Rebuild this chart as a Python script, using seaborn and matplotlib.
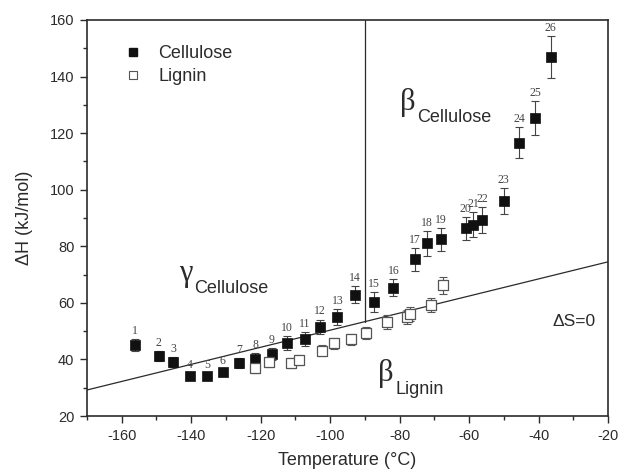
import numpy as np
import pandas as pd
import matplotlib
matplotlib.use("Agg")
import matplotlib.pyplot as plt
import seaborn as sns
from matplotlib.ticker import MultipleLocator
from matplotlib.lines import Line2D

# ---- data ----
cell_T = [-156.2, -149.3, -145.2, -140.4, -135.4, -130.9, -126.2, -121.6, -116.8,
          -112.5, -107.2, -102.9, -97.9, -92.9, -87.4, -81.8, -75.6, -72.0, -68.2,
          -61.0, -58.8, -56.2, -50.0, -45.6, -41.0, -36.5]
cell_H = [45.1, 41.3, 39.2, 34.1, 34.1, 35.4, 38.8, 40.1, 41.9, 45.7, 47.1, 51.6,
          54.9, 62.8, 60.4, 65.3, 75.4, 81.0, 82.4, 86.3, 87.7, 89.3, 96.0, 116.6,
          125.2, 147.0]
cell_err = [2.0, 1.8, 1.8, 1.0, 1.0, 1.3, 1.8, 2.0, 2.0, 2.5, 2.5, 2.5, 2.8, 3.0,
            3.5, 3.0, 4.0, 4.3, 4.2, 4.0, 4.3, 4.5, 4.7, 5.4, 6.0, 7.4]
cell_labels = [str(i) for i in range(1, 27)]

lig_T = [-121.6, -117.5, -111.3, -108.9, -102.4, -98.8, -94.1, -89.7, -83.7,
         -78.0, -77.0, -71.0, -67.6]
lig_H = [36.9, 39.0, 38.6, 39.8, 43.1, 45.7, 47.1, 49.4, 53.3, 55.0, 56.0, 59.2, 66.3]
lig_err = [1.8, 1.8, 1.8, 1.8, 2.0, 2.0, 2.0, 2.2, 2.5, 2.5, 2.5, 2.5, 3.0]

# Delta S = 0 reference line (end points) and boundary temperature
ds_T = [-170, -20]
ds_H = [29.2, 74.5]
boundary_T = -90

cell = pd.DataFrame({"T": cell_T, "H": cell_H, "err": cell_err, "lab": cell_labels})
lig = pd.DataFrame({"T": lig_T, "H": lig_H, "err": lig_err})

# ---- figure ----
sns.set_theme(style="ticks")
plt.rcParams["font.family"] = ["Liberation Sans", "DejaVu Sans"]
ink = "#2b2b2b"
plt.rcParams.update({"text.color": ink, "axes.labelcolor": ink,
                     "xtick.color": ink, "ytick.color": ink,
                     "axes.edgecolor": ink, "axes.unicode_minus": False})

fig = plt.figure(figsize=(6.18, 4.73), dpi=100)
ax = fig.add_axes([87 / 618, 1 - 416 / 473, (608 - 87) / 618, (416 - 20) / 473])

# reference line and boundary
ax.plot(ds_T, ds_H, color=ink, lw=0.9, zorder=1)
slope = (ds_H[1] - ds_H[0]) / (ds_T[1] - ds_T[0])
yb = ds_H[0] + slope * (boundary_T - ds_T[0])
ax.plot([boundary_T, boundary_T], [yb, 160], color=ink, lw=0.9, zorder=1)

# error bars
ax.errorbar(cell["T"], cell["H"], yerr=cell["err"], fmt="none", ecolor="#444444",
            elinewidth=0.8, capsize=3, capthick=0.8, zorder=2)
ax.errorbar(lig["T"], lig["H"], yerr=lig["err"], fmt="none", ecolor="#555555",
            elinewidth=0.8, capsize=3, capthick=0.8, zorder=2)

sns.scatterplot(data=cell, x="T", y="H", marker="s", color="#111111",
                edgecolor="#111111", s=50, linewidth=0.5, ax=ax, zorder=3, legend=False)
sns.scatterplot(data=lig, x="T", y="H", marker="s", color="white",
                edgecolor="#555555", s=45, linewidth=0.9, ax=ax, zorder=3, legend=False)

# point numbers
for t, h, e, lab in zip(cell["T"], cell["H"], cell["err"], cell["lab"]):
    ax.annotate(lab, (t, h + e), xytext=(0, 1.5), textcoords="offset points",
                ha="center", va="bottom", fontsize=8.5,
                family=["Liberation Serif", "DejaVu Serif"], color="#444444")

# axes
ax.set_xlim(-170, -20)
ax.set_ylim(20, 160)
ax.xaxis.set_major_locator(MultipleLocator(20))
ax.xaxis.set_minor_locator(MultipleLocator(10))
ax.yaxis.set_major_locator(MultipleLocator(20))
ax.yaxis.set_minor_locator(MultipleLocator(10))
ax.tick_params(which="major", direction="out", length=5, width=1.0, labelsize=10.5, pad=4)
ax.tick_params(which="minor", direction="out", length=3, width=1.0)
for sp in ax.spines.values():
    sp.set_linewidth(1.2)
    sp.set_visible(True)
ax.set_xlabel("Temperature (°C)", fontsize=13, labelpad=7)
ax.set_ylabel("ΔH (kJ/mol)", fontsize=13, labelpad=12)

# legend
handles = [Line2D([], [], marker="s", ls="none", color="#111111", markersize=5.5),
           Line2D([], [], marker="s", ls="none", markerfacecolor="white",
                  markeredgecolor="#555555", markersize=5.5, markeredgewidth=0.8)]
ax.legend(handles, ["Cellulose", "Lignin"], loc="upper left",
          bbox_to_anchor=(0.04, 0.978), frameon=False, fontsize=13,
          handletextpad=0.9, labelspacing=0.35, handlelength=1.0)

# region annotations
greek = ["Liberation Serif", "DejaVu Serif"]
ax.text(-139.6, 67.7, "γ", fontsize=22, family=greek, ha="right", va="baseline")
ax.text(-139.2, 63.6, "Cellulose", fontsize=13, ha="left", va="baseline")
ax.text(-75.3, 128.1, "β", fontsize=22, family=greek, ha="right", va="baseline")
ax.text(-75.0, 124.0, "Cellulose", fontsize=13, ha="left", va="baseline")
ax.text(-81.8, 32.4, "β", fontsize=22, family=greek, ha="right", va="baseline")
ax.text(-81.3, 27.8, "Lignin", fontsize=13, ha="left", va="baseline")
ax.text(-23.5, 53.4, "ΔS=0", fontsize=12.5, ha="right", va="center")

fig.savefig("out.png", dpi=100)
